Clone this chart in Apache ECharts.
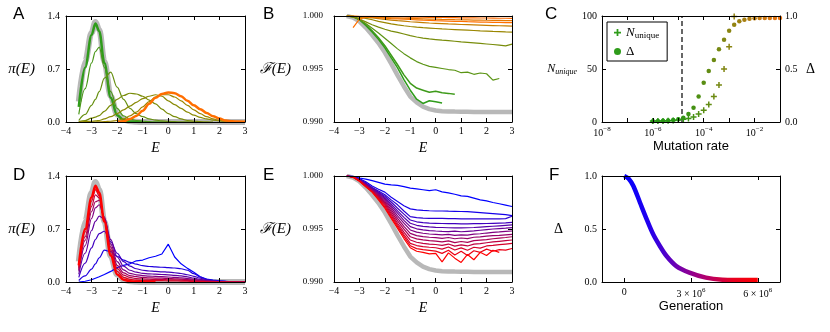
<!DOCTYPE html>
<html>
<head>
<meta charset="utf-8">
<script src="https://cdn.jsdelivr.net/npm/echarts@6/dist/echarts.min.js"></script>
<style>
  html, body { margin: 0; padding: 0; background: #fff; }
  #chart { width: 830px; height: 332px; }
</style>
</head>
<body>
<div id="chart"></div>
<script>
// ---- data ----
const eA = [-3.5,-3.25,-3,-2.85,-2.7,-2.5,-2.25,-2,-1.75,-1.5,-1.25,-1,-0.75,-0.5,-0.25,0,0.25,0.5,0.75,1,1.25,1.5,1.75,2,2.25,2.5,2.75,3];
const eB = [-3.5,-3.25,-3,-2.75,-2.5,-2.25,-2,-1.75,-1.5,-1.25,-1,-0.75,-0.5,-0.25,0,0.25,0.5,0.75,1,1.25,1.5,1.75,2,2.25,2.5,2.75,3];

// panel A / D: equilibrium distribution (grey band)
const piEq = [0.27,0.8,1.18,1.32,1.22,0.8,0.34,0.1,0.03,0.01,0.003,0,0,0,0,0,0,0,0,0,0,0,0,0,0,0,0,0];

// panel A: green -> orange
const piA1 = [0.2,0.72,1.15,1.3,1.2,0.78,0.32,0.09,0.025,0.008,0.003,0.001];
const piA2 = [0.1,0.44,0.78,0.93,0.99,0.72,0.4,0.18,0.08,0.04,0.02,0.01,0.005,0.002,0.001,0];
const piA3 = [0.02,0.1,0.22,0.3,0.4,0.58,0.66,0.46,0.3,0.18,0.11,0.07,0.04,0.025,0.015,0.008,0.004,0.002,0.001,0];
const piA4 = [0.005,0.02,0.05,0.065,0.085,0.14,0.22,0.3,0.35,0.38,0.37,0.34,0.29,0.24,0.17,0.11,0.07,0.04,0.02,0.01,0.005,0.002,0];
const piA5 = [0,0.005,0.01,0.015,0.02,0.04,0.07,0.11,0.16,0.21,0.26,0.31,0.34,0.36,0.34,0.28,0.23,0.18,0.13,0.09,0.06,0.04,0.025,0.015,0.01,0.005,0.002,0];
const piA6 = [0,0,0,0,0.002,0.005,0.01,0.02,0.04,0.08,0.13,0.2,0.27,0.33,0.36,0.36,0.33,0.28,0.22,0.16,0.11,0.07,0.04,0.02,0.01,0.005,0.002,0];
const piA7 = [null,null,null,null,null,null,null,0,0.01,0.04,0.08,0.15,0.24,0.32,0.37,0.39,0.38,0.34,0.28,0.22,0.17,0.12,0.075,0.045,0.02,0.01,0.005,0.002];

// panel B / E: equilibrium fitness (grey band)
const fEq = [1.0,0.99985,0.9995,0.9989,0.9982,0.99745,0.99655,0.9955,0.9944,0.99335,0.9924,0.99185,0.99145,0.99122,0.99108,0.99102,0.991,0.99098,0.99097,0.99096,0.99095,0.99095,0.99095,0.99095,0.99095,0.99095,0.99095];

// panel B: green -> orange
const fB1 = [1.0,0.99995,0.99965,0.9991,0.9985,0.9978,0.997,0.99605,0.9951,0.994,0.993,0.99215,0.99175,0.992,0.9919,0.9918];
const fB2 = [1.0,0.99996,0.9997,0.9992,0.9986,0.99795,0.9972,0.9963,0.9954,0.99445,0.99365,0.9932,0.993,0.9928,0.9929,0.99275,0.9927,0.99262];
const fB3 = [1.0,0.9999,0.99965,0.9993,0.99885,0.9984,0.9979,0.9974,0.9969,0.99645,0.99605,0.9957,0.99545,0.99525,0.99515,0.99505,0.99495,0.99488,0.99465,0.9947,0.9945,0.99462,0.99455,0.99395,0.9941];
const fB4 = [1.0,0.99992,0.99972,0.99945,0.99918,0.99895,0.99875,0.99858,0.99845,0.9983,0.99815,0.99802,0.99792,0.99784,0.99778,0.99772,0.99767,0.99762,0.99756,0.99751,0.99746,0.99741,0.99736,0.99731,0.99726,0.99718,0.99734];
const fB5 = [1.0,0.99996,0.99988,0.99978,0.99965,0.9995,0.99938,0.99926,0.99916,0.99908,0.99901,0.99895,0.9989,0.99886,0.99882,0.99878,0.99875,0.99872,0.99869,0.99866,0.99863,0.9986,0.99858,0.99855,0.99853,0.9985,0.99848];
const fB6 = [1.0,0.99998,0.99994,0.99988,0.99982,0.99975,0.99968,0.99962,0.99956,0.99951,0.99946,0.99942,0.99938,0.99934,0.99931,0.99928,0.99925,0.99923,0.9992,0.99918,0.99916,0.99914,0.99912,0.9991,0.99908,0.99906,0.99904];
const fB7 = [null,0.9989,0.9997,0.9999,0.99988,0.99984,0.9998,0.99976,0.99973,0.9997,0.99967,0.99964,0.99961,0.99959,0.99956,0.99954,0.99952,0.9995,0.99948,0.99946,0.99945,0.99943,0.99942,0.9994,0.99939,0.99938,0.99937];
const fB8 = [1.0,0.99998,0.99995,0.99992,0.9999,0.99987,0.99985,0.99983,0.99981,0.99979,0.99977,0.99975,0.99973,0.99971,0.9997,0.99968,0.99967,0.99965,0.99964,0.99963,0.99962,0.99961,0.9996,0.99959,0.99958,0.99957,0.99956];
const fB9 = [1.0,1.0,0.99998,0.99997,0.99996,0.99995,0.99994,0.99993,0.99992,0.99991,0.9999,0.99989,0.99988,0.99987,0.99986,0.99986,0.99985,0.99984,0.99983,0.99983,0.99982,0.99981,0.99981,0.9998,0.99979,0.99979,0.99978];

// panel C
const mutRate = [1e-6,1.58e-6,2.51e-6,3.98e-6,6.31e-6,1e-5,1.58e-5,2.51e-5,3.98e-5,6.31e-5,1e-4,1.58e-4,2.51e-4,3.98e-4,6.31e-4,1e-3,1.58e-3,2.51e-3,3.98e-3,6.31e-3,1e-2,1.58e-2,2.51e-2,3.98e-2,6.31e-2,1e-1];
const deltaC = [0.008,0.009,0.012,0.015,0.02,0.025,0.04,0.075,0.135,0.24,0.37,0.48,0.585,0.687,0.775,0.86,0.918,0.95,0.965,0.975,0.978,0.98,0.98,0.98,0.98,0.98];
const nUnique = [1,1,1,1.2,1.5,2,2.5,3.4,4.8,7.5,11,16.5,24,35,50,71,99.5];
const thresholdRate = 1.4e-5;

// panel D: blue -> red
const piD1 = [0,0.01,0.03,0.05,0.07,0.1,0.14,0.19,0.22,0.24,0.28,0.29,0.32,0.34,0.37,0.5,0.33,0.24,0.18,0.13,0.07,0.04,0.025,0.015,0.01,0.006,0.003,0.002];
const piD2 = [0.02,0.08,0.17,0.24,0.32,0.42,0.4,0.34,0.29,0.26,0.235,0.215,0.205,0.2,0.195,0.19,0.185,0.175,0.155,0.11,0.065,0.035,0.02,0.012,0.007,0.004,0.002,0.001];
const piD3 = [0.06,0.25,0.45,0.56,0.64,0.67,0.53,0.38,0.27,0.21,0.175,0.155,0.145,0.14,0.135,0.13,0.122,0.112,0.096,0.075,0.05,0.03,0.017,0.009,0.005,0.003,0.001,0];
const piD4 = [0.1,0.38,0.68,0.8,0.87,0.83,0.56,0.33,0.21,0.155,0.13,0.115,0.108,0.103,0.099,0.095,0.088,0.08,0.068,0.052,0.034,0.02,0.011,0.006,0.003,0.002,0.001,0];
const piD5 = [0.14,0.48,0.84,0.98,1.02,0.86,0.5,0.27,0.16,0.115,0.095,0.085,0.078,0.074,0.07,0.066,0.06,0.054,0.046,0.036,0.024,0.014,0.008,0.004,0.002,0.001,0,0];
const piD6 = [0.16,0.55,0.93,1.06,1.08,0.84,0.46,0.22,0.12,0.085,0.07,0.06,0.055,0.052,0.05,0.047,0.043,0.038,0.032,0.025,0.016,0.01,0.005,0.003,0.002,0.001,0,0];
const piD7 = [0.18,0.6,1.0,1.15,1.11,0.82,0.42,0.18,0.09,0.06,0.045,0.04,0.036,0.034,0.032,0.03,0.027,0.024,0.02,0.015,0.01,0.006,0.003,0.002,0.001,0,0,0];
const piD8 = [0.2,0.66,1.07,1.22,1.14,0.8,0.38,0.14,0.06,0.035,0.025,0.02,0.02,0.018,0.017,0.016,0.014,0.012,0.01,0.008,0.005,0.003,0.002,0.001,0,0,0,0];
const piD9 = [0.22,0.7,1.12,1.27,1.18,0.8,0.35,0.1,0.03,0.01,0.005,0.002,0.001,0];

// panel E: blue -> red
const fE1 = [1.0,0.99998,0.99981,0.9997,0.99956,0.9994,0.99924,0.99917,0.99911,0.999,0.99886,0.99878,0.9987,0.99862,0.9987,0.9985,0.9984,0.99828,0.99812,0.99808,0.99792,0.99775,0.99765,0.9975,0.99738,0.99725,0.99712];
const fE2 = [1.0,0.99995,0.99975,0.99945,0.99905,0.99875,0.99848,0.998,0.99759,0.9972,0.9969,0.9968,0.99675,0.99672,0.9967,0.9967,0.99668,0.99667,0.99665,0.99663,0.9966,0.99655,0.9965,0.99645,0.9964,0.99635,0.99627];
const fE3 = [1.0,0.99994,0.9997,0.99935,0.99892,0.99858,0.99823,0.99775,0.99728,0.9967,0.99617,0.99608,0.99603,0.99601,0.996,0.996,0.99598,0.99597,0.99596,0.99596,0.99595,0.99595,0.99595,0.99595,0.99596,0.99598,0.9962];
const fE4 = [1.0,0.99993,0.99968,0.9993,0.99888,0.9985,0.9981,0.99755,0.99696,0.9964,0.99585,0.99568,0.9956,0.99556,0.99554,0.99552,0.9955,0.9955,0.99548,0.99548,0.9955,0.9955,0.99552,0.99554,0.99556,0.99558,0.99563];
const fE5 = [1.0,0.99993,0.99966,0.99926,0.99883,0.99842,0.99797,0.99735,0.99671,0.9961,0.99554,0.99535,0.99525,0.9952,0.99516,0.99514,0.99512,0.9951,0.9951,0.99512,0.99514,0.99518,0.99522,0.99526,0.9953,0.99534,0.99538];
const fE6 = [1.0,0.99992,0.99964,0.99922,0.99878,0.99834,0.99785,0.99718,0.99649,0.99582,0.99522,0.99502,0.99492,0.99485,0.99481,0.99478,0.99476,0.9948,0.99474,0.99478,0.99482,0.99488,0.99494,0.995,0.99504,0.99508,0.99513];
const fE7 = [1.0,0.99992,0.99962,0.99918,0.99872,0.99825,0.99772,0.99702,0.99623,0.99555,0.99491,0.9947,0.9946,0.99453,0.99449,0.99444,0.9945,0.9944,0.99445,0.99442,0.99452,0.99455,0.99462,0.99468,0.99472,0.99478,0.99481];
const fE8 = [1.0,0.99991,0.9996,0.99914,0.99867,0.99816,0.99759,0.99682,0.99601,0.99525,0.99459,0.99438,0.99428,0.99422,0.99418,0.99412,0.9942,0.99408,0.99415,0.9941,0.99422,0.99426,0.99432,0.99438,0.9944,0.99445,0.9945];
const fE9 = [1.0,0.99991,0.99958,0.9991,0.99862,0.99807,0.99747,0.99664,0.99576,0.99498,0.99427,0.99407,0.99397,0.9939,0.99386,0.99378,0.99388,0.99372,0.99382,0.99374,0.9939,0.99395,0.994,0.99408,0.99414,0.9942,0.99427];
const fE10 = [1.0,0.9999,0.99956,0.99906,0.99857,0.99798,0.99734,0.99645,0.99554,0.9947,0.99396,0.99375,0.99365,0.99358,0.99354,0.99345,0.99358,0.99338,0.9935,0.9934,0.99358,0.99362,0.9937,0.99378,0.99384,0.9939,0.99396];
const fE11 = [1.0,0.9999,0.99954,0.99902,0.99852,0.9979,0.99722,0.99628,0.99538,0.99448,0.99364,0.99344,0.99334,0.99328,0.99323,0.9931,0.9933,0.99302,0.99322,0.993,0.99328,0.9932,0.9934,0.99345,0.99352,0.99358,0.99364];
const fE12 = [1.0,0.99989,0.99952,0.999,0.9985,0.99782,0.99709,0.99612,0.99522,0.9943,0.99342,0.99315,0.99305,0.99298,0.99291,0.9927,0.993,0.99255,0.9929,0.9925,0.99295,0.9928,0.9931,0.9929,0.99305,0.993,0.99316];
const fE13 = [1.0,0.99988,0.9995,0.99898,0.99848,0.99775,0.99696,0.996,0.99506,0.9941,0.99323,0.9929,0.9928,0.99265,0.9927,0.9919,0.99275,0.99225,0.99185,0.9926,0.9921,0.9928,0.9925,0.993,0.9928];

// panel F
const genF = [0,200000,410000,710000,1010000,1300000,1600000,1900000,2340000,2930000,3670000,4410000,5200000,6000000];
const deltaF = [1.0,0.975,0.906,0.748,0.591,0.45,0.34,0.245,0.15,0.088,0.041,0.022,0.019,0.018];

// ---- helpers ----
const SERIF = '"Liberation Serif", "DejaVu Serif", serif';
const SANS = '"Liberation Sans", Arial, sans-serif';
const GREY = '#b8b8b8';

const grids = [], xAxis = [], yAxis = [], series = [];

function axis(gi, pos, o) {
  return {
    gridIndex: gi, position: pos, type: o.type || 'value', logBase: o.logBase,
    min: o.min, max: o.max, interval: o.interval,
    axisLine: { show: true, onZero: false, lineStyle: { color: '#000', width: 1 } },
    axisTick: { show: true, inside: true, length: 4, lineStyle: { color: '#000', width: 1 }, customValues: o.tickValues },
    axisLabel: o.label ? Object.assign({ show: true, color: '#000', fontFamily: SERIF, fontSize: 10 }, o.label) : { show: false },
    splitLine: { show: false },
    name: o.label ? o.name : '', nameLocation: 'middle', nameGap: o.nameGap, nameRotate: 0,
    nameTextStyle: Object.assign({ color: '#000', fontFamily: SERIF, fontStyle: 'italic', fontSize: 14 }, o.nameStyle || {}),
    silent: true, z: 10
  };
}
const strip = o => Object.assign({}, o, { label: null });

function panel(rect, xo, yo, yro) {
  const gi = grids.length;
  grids.push({ left: rect[0], top: rect[1], width: rect[2], height: rect[3], containLabel: false, outerBoundsMode: 'none' });
  const xi = xAxis.length;
  xAxis.push(axis(gi, 'bottom', xo), axis(gi, 'top', strip(xo)));
  const yi = yAxis.length;
  yAxis.push(axis(gi, 'left', yo), axis(gi, 'right', yro || strip(yo)));
  return { gi, xi, yi, yr: yi + 1 };
}

function line(p, xs, ys, color, width, extra) {
  const data = [];
  xs.forEach((x, i) => { if (ys[i] != null && i < ys.length) data.push([x, ys[i]]); });
  series.push(Object.assign({
    type: 'line', xAxisIndex: p.xi, yAxisIndex: p.yi, data, symbol: 'none',
    lineStyle: { color, width }, z: 3, silent: true, animation: false
  }, extra || {}));
}

const minus = v => String(v).replace('-', '\u2212');
const blueRed = t => `rgb(${Math.round(255 * t)},0,${Math.round(255 * (1 - t))})`;
const smooth = { smooth: 0.35, smoothMonotone: 'x' };

const eAxis = { min: -4, max: 3, interval: 1, label: { margin: 4, formatter: minus }, name: 'E', nameGap: 19 };
const piAxis = { min: 0, max: 1.4, interval: 0.7, label: { margin: 6, formatter: v => v.toFixed(1) }, name: 'π(E)', nameGap: 31, nameStyle: { fontSize: 15 } };
const fAxis = { min: 0.99, max: 1.0, interval: 0.005, label: { margin: 11, fontSize: 9, formatter: v => v.toFixed(3) }, name: 'ℱ(E)', nameGap: 43, nameStyle: { fontSize: 15 } };

// ---- A ----
const pA = panel([66, 16, 179, 106], eAxis, piAxis);
line(pA, eA, piEq, GREY, 6, Object.assign({ z: 2 }, smooth));
const aSets = [piA1, piA2, piA3, piA4, piA5, piA6, piA7];
const aColors = ['#2f9c1b', '#4a971a', '#679012', '#798c08', '#898a04', '#9c8600', '#ff6e00'];
const aWidths = [2.5, 1.2, 1.2, 1.2, 1.2, 1.2, 2.5];
aSets.forEach((s, i) => line(pA, eA, s, aColors[i], aWidths[i], smooth));

// ---- B ----
const pB = panel([334, 16, 178, 106], eAxis, fAxis);
line(pB, eB, fEq, GREY, 4.5, { z: 2 });
const bSets = [fB1, fB2, fB3, fB4, fB5, fB6, fB7, fB8, fB9];
const bColors = ['#2f9c1b', '#3e9a1a', '#5a9414', '#788c0a', '#9a8600', '#c47c00', '#ff7000', '#e67800', '#ff6a00'];
bSets.forEach((s, i) => line(pB, eB, s, bColors[i], i < 2 ? 1.5 : 1.2));

// ---- C ----
const sup = e => '{b|10}{e|' + String(e).replace('-', '\u2212') + '}';
const pC = panel([602, 16, 178, 106],
  { type: 'log', logBase: 10, min: 1e-8, max: 1e-1,
    label: { margin: 4, formatter: v => { const e = Math.round(Math.log10(v)); return e % 2 === 0 ? sup(e) : ''; },
      rich: { b: { fontFamily: SERIF, fontSize: 10, color: '#000' }, e: { fontFamily: SERIF, fontSize: 7, color: '#000', padding: [0, 0, 7, 0] } } },
    name: 'Mutation rate', nameGap: 18, nameStyle: { fontFamily: SANS, fontStyle: 'normal', fontSize: 13 } },
  { min: 0, max: 100, interval: 50, label: { margin: 5 }, name: '{n|N}{s|unique}', nameGap: 25,
    nameStyle: { rich: { n: { fontFamily: SERIF, fontStyle: 'italic', fontSize: 12, color: '#000' }, s: { fontFamily: SERIF, fontSize: 8, color: '#000', padding: [6, 0, 0, 0] } } } },
  null);
yAxis[pC.yr] = axis(pC.gi, 'right', { min: 0, max: 1, interval: 0.5, label: { margin: 5, formatter: v => v.toFixed(1) }, name: 'Δ', nameGap: 26, nameStyle: { fontStyle: 'normal', fontSize: 14 } });

const rateColor = r => {
  const t = Math.min(1, Math.max(0, (Math.log10(r) + 5) / 4));
  return `rgb(${Math.round(40 + 195 * t)},${Math.round(150 - 35 * t)},${Math.round(20 - 5 * t)})`;
};
const PLUS = 'path://M3,0H5V3H8V5H5V8H3V5H0V3H3Z';
// dashed threshold marker, drawn as a two-point line through the log axis
series.push({
  type: 'line', xAxisIndex: pC.xi, yAxisIndex: pC.yr, data: [[thresholdRate, 0], [thresholdRate, 1]],
  symbol: 'none', silent: true, animation: false, z: 3,
  lineStyle: { color: '#000', width: 1.2, type: [5, 3] }
});
series.push({
  name: 'Nunique', type: 'scatter', xAxisIndex: pC.xi, yAxisIndex: pC.yi,
  data: nUnique.map((v, i) => [mutRate[i], v]), symbol: PLUS, symbolSize: 6,
  itemStyle: { color: p => rateColor(p.value[0]), opacity: 1 }, z: 4, silent: true, animation: false
});
series.push({
  name: 'Delta', type: 'scatter', xAxisIndex: pC.xi, yAxisIndex: pC.yr,
  data: deltaC.map((v, i) => [mutRate[i], v]), symbol: 'circle', symbolSize: 4.5,
  itemStyle: { color: p => rateColor(p.value[0]), opacity: 1 }, z: 4, silent: true, animation: false
});

// ---- D ----
const pD = panel([66, 176, 179, 106], eAxis, piAxis);
line(pD, eA, piEq, GREY, 6, Object.assign({ z: 2 }, smooth));
const dSets = [piD1, piD2, piD3, piD4, piD5, piD6, piD7, piD8, piD9];
dSets.forEach((s, i) => {
  const last = i === dSets.length - 1;
  line(pD, eA, s, last ? '#ff0000' : blueRed(i / (dSets.length - 1)), last ? 2.5 : 1.2, i === 0 ? {} : smooth);
});

// ---- E ----
const pE = panel([334, 176, 178, 106], eAxis, fAxis);
line(pE, eB, fEq, GREY, 4.5, { z: 2 });
const eSets = [fE1, fE2, fE3, fE4, fE5, fE6, fE7, fE8, fE9, fE10, fE11, fE12, fE13];
eSets.forEach((s, i) => line(pE, eB, s, blueRed(i / (eSets.length - 1)), 1.2));

// ---- F ----
const genTicks = [0, 3e6, 6e6];
const pF = panel([602, 176, 178, 106],
  { min: -1e6, max: 7e6, tickValues: genTicks,
    label: { margin: 5, customValues: genTicks, formatter: v => v === 0 ? '0' : (v / 1e6) + ' × {e|10}{s|6}',
      rich: { e: { fontFamily: SERIF, fontSize: 10, color: '#000' }, s: { fontFamily: SERIF, fontSize: 7, color: '#000', padding: [0, 0, 7, 0] } } },
    name: 'Generation', nameGap: 18, nameStyle: { fontFamily: SANS, fontStyle: 'normal', fontSize: 13 } },
  { min: 0, max: 1, interval: 0.5, label: { margin: 5, formatter: v => v.toFixed(1) }, name: 'Δ', nameGap: 39, nameStyle: { fontStyle: 'normal', fontSize: 14 } });
series.push({
  type: 'line', xAxisIndex: pF.xi, yAxisIndex: pF.yi, data: genF.map((g, i) => [g, deltaF[i]]),
  symbol: 'none', smooth: 0.3, silent: true, animation: false, z: 3,
  lineStyle: { width: 4.5, color: new echarts.graphic.LinearGradient(0, 0, 1, 0, [
    { offset: 0, color: '#0000ff' }, { offset: 0.2, color: '#2200ee' }, { offset: 0.4, color: '#7000b0' },
    { offset: 0.6, color: '#b00070' }, { offset: 0.8, color: '#e80020' }, { offset: 1, color: '#ff0000' }]) }
});

// ---- panel letters ----
const letters = [['A', 13, 6], ['B', 263, 6], ['C', 545, 6], ['D', 13, 167], ['E', 263, 167], ['F', 549, 167]];

const chart = echarts.init(document.getElementById('chart'), null, { renderer: 'canvas' });
chart.setOption({
  animation: false,
  grid: grids,
  xAxis, yAxis, series,
  legend: {
    left: 607, top: 22, orient: 'vertical', selectedMode: false,
    backgroundColor: '#fff', borderColor: '#000', borderWidth: 1, borderRadius: 0,
    padding: [4, 8, 3, 7], itemGap: 5, itemWidth: 7, itemHeight: 7,
    data: [
      { name: 'Nunique', icon: PLUS, itemStyle: { color: '#2f9c1b' } },
      { name: 'Delta', icon: 'circle', itemStyle: { color: '#2f9c1b' } }
    ],
    formatter: n => n === 'Nunique' ? '{n|N}{s|unique}' : '{d|Δ}',
    textStyle: {
      color: '#000',
      rich: {
        n: { fontFamily: SERIF, fontStyle: 'italic', fontSize: 13, color: '#000' },
        s: { fontFamily: SERIF, fontSize: 9, color: '#000', padding: [6, 0, 0, 0] },
        d: { fontFamily: SERIF, fontSize: 13, color: '#000' }
      }
    }
  },
  graphic: letters.map(([t, x, y]) => ({
    type: 'text', left: x, top: y, silent: true,
    style: { text: t, font: '17px "Liberation Sans", Arial, sans-serif', fill: '#000' }
  }))
});
</script>
</body>
</html>
